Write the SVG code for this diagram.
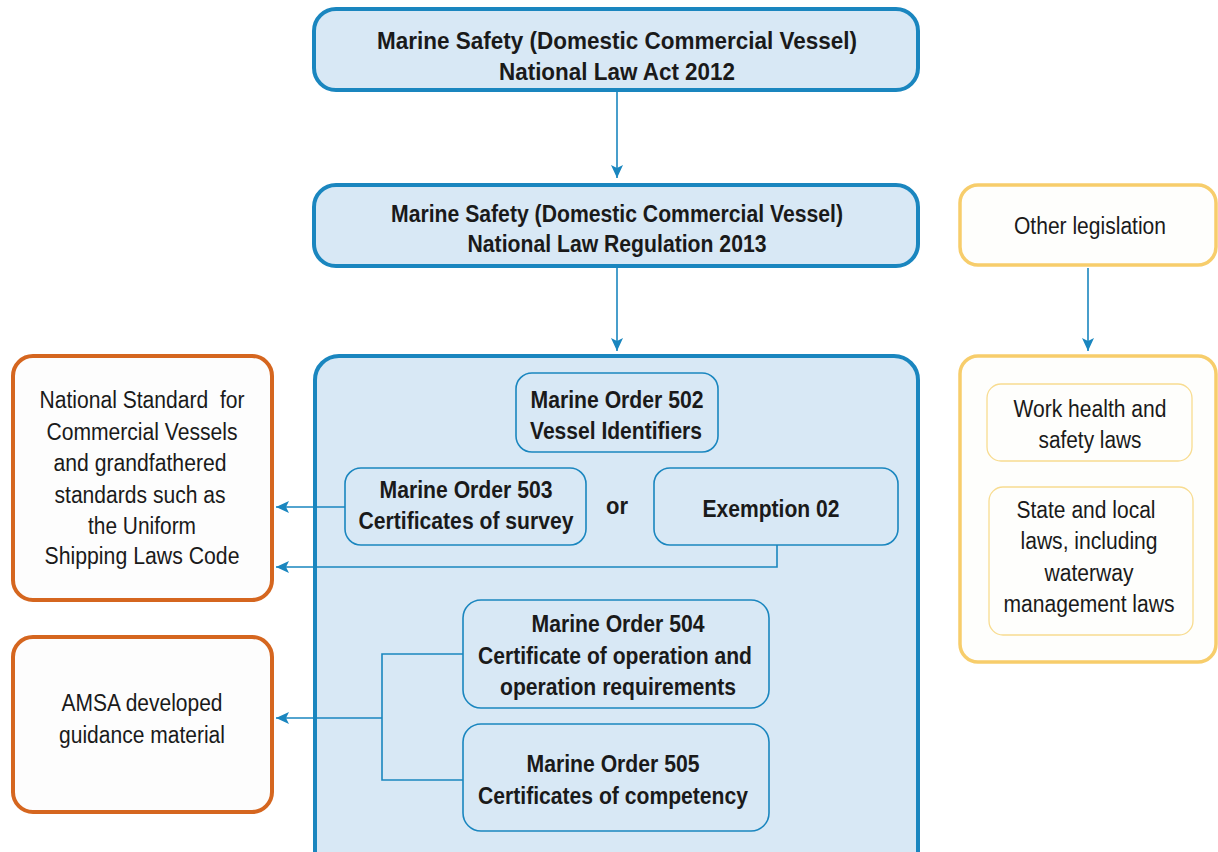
<svg xmlns="http://www.w3.org/2000/svg" width="1218" height="852" viewBox="0 0 1218 852">
<style>
.bm{fill:#d8e8f5;stroke:#1a86bf;stroke-width:4}
.bi{fill:#d8e8f5;stroke:#1a86bf;stroke-width:1.6}
.or{fill:#fdfdfd;stroke:#d5661f;stroke-width:4}
.yo{fill:#fefefc;stroke:#f7cd6b;stroke-width:3.5}
.yi{fill:#fefefc;stroke:#f8dc90;stroke-width:1.3}
text{font-family:"Liberation Sans",Arial,sans-serif;fill:#1a1a1a;text-anchor:middle}
.b{font-weight:bold;font-size:23px}
.r{font-size:23px}
.c{fill:none;stroke:#1a86bf;stroke-width:1.6}
</style>
<defs>
<marker id="ah" markerUnits="userSpaceOnUse" markerWidth="14" markerHeight="14" refX="13" refY="6" orient="auto">
<path d="M0,0 L13,6 L0,12 L3,6 Z" fill="#1a86bf"/>
</marker>
</defs>
<rect width="1218" height="852" fill="#ffffff"/>
<g id="act">
<rect class="bm" x="314" y="9" width="604" height="81" rx="22"/>
<text class="b" x="617" y="49" font-size="24" textLength="480" lengthAdjust="spacingAndGlyphs">Marine Safety (Domestic Commercial Vessel)</text>
<text class="b" x="617" y="80" font-size="24" textLength="236" lengthAdjust="spacingAndGlyphs">National Law Act 2012</text>
</g>
<g id="regulation">
<rect class="bm" x="314" y="185" width="604" height="81" rx="22"/>
<text class="b" x="617" y="222" textLength="452" lengthAdjust="spacingAndGlyphs">Marine Safety (Domestic Commercial Vessel)</text>
<text class="b" x="617" y="252" textLength="299" lengthAdjust="spacingAndGlyphs">National Law Regulation 2013</text>
</g>
<g id="marine-orders">
<rect class="bm" x="315" y="356" width="603" height="520" rx="24"/>
</g>
<g id="mo502">
<rect class="bi" x="516" y="373" width="202" height="79" rx="16"/>
<text class="b" x="617" y="408" textLength="173" lengthAdjust="spacingAndGlyphs">Marine Order 502</text>
<text class="b" x="616" y="439" textLength="172" lengthAdjust="spacingAndGlyphs">Vessel Identifiers</text>
</g>
<g id="mo503">
<rect class="bi" x="345" y="468" width="241" height="77" rx="16"/>
<text class="b" x="466" y="498" textLength="173" lengthAdjust="spacingAndGlyphs">Marine Order 503</text>
<text class="b" x="466" y="529" textLength="215" lengthAdjust="spacingAndGlyphs">Certificates of survey</text>
</g>
<g id="or">
<text class="b" x="617" y="514" textLength="22" lengthAdjust="spacingAndGlyphs">or</text>
</g>
<g id="exemption">
<rect class="bi" x="654" y="468" width="244" height="77" rx="16"/>
<text class="b" x="771" y="517" textLength="137" lengthAdjust="spacingAndGlyphs">Exemption 02</text>
</g>
<g id="mo504">
<rect class="bi" x="463" y="600" width="306" height="108" rx="18"/>
<text class="b" x="618" y="632" textLength="173" lengthAdjust="spacingAndGlyphs">Marine Order 504</text>
<text class="b" x="615" y="664" textLength="274" lengthAdjust="spacingAndGlyphs">Certificate of operation and</text>
<text class="b" x="618" y="695" textLength="236" lengthAdjust="spacingAndGlyphs">operation requirements</text>
</g>
<g id="mo505">
<rect class="bi" x="463" y="724" width="306" height="107" rx="18"/>
<text class="b" x="613" y="772" textLength="173" lengthAdjust="spacingAndGlyphs">Marine Order 505</text>
<text class="b" x="613" y="804" textLength="270" lengthAdjust="spacingAndGlyphs">Certificates of competency</text>
</g>
<g id="national-standard">
<rect class="or" x="13" y="356" width="259" height="244" rx="20"/>
<text class="r" x="142" y="408" textLength="205" lengthAdjust="spacingAndGlyphs" xml:space="preserve">National Standard  for</text>
<text class="r" x="142" y="440" textLength="191" lengthAdjust="spacingAndGlyphs">Commercial Vessels</text>
<text class="r" x="140" y="471" textLength="173" lengthAdjust="spacingAndGlyphs">and grandfathered</text>
<text class="r" x="140" y="503" textLength="171" lengthAdjust="spacingAndGlyphs">standards such as</text>
<text class="r" x="142" y="534" textLength="108" lengthAdjust="spacingAndGlyphs">the Uniform</text>
<text class="r" x="142" y="564" textLength="195" lengthAdjust="spacingAndGlyphs">Shipping Laws Code</text>
</g>
<g id="amsa">
<rect class="or" x="13" y="637" width="259" height="175" rx="20"/>
<text class="r" x="142" y="711" textLength="161" lengthAdjust="spacingAndGlyphs">AMSA developed</text>
<text class="r" x="142" y="743" textLength="166" lengthAdjust="spacingAndGlyphs">guidance material</text>
</g>
<g id="other-legislation">
<rect class="yo" x="960" y="185" width="256" height="80" rx="18"/>
<text class="r" x="1090" y="234" textLength="152" lengthAdjust="spacingAndGlyphs">Other legislation</text>
</g>
<g id="other-laws">
<rect class="yo" x="960" y="356" width="256" height="306" rx="18"/>
</g>
<g id="whs">
<rect class="yi" x="987" y="384" width="205" height="77" rx="14"/>
<text class="r" x="1090" y="417" textLength="153" lengthAdjust="spacingAndGlyphs">Work health and</text>
<text class="r" x="1090" y="448" textLength="103" lengthAdjust="spacingAndGlyphs">safety laws</text>
</g>
<g id="state-laws">
<rect class="yi" x="989" y="487" width="204" height="148" rx="14"/>
<text class="r" x="1086" y="518" textLength="139" lengthAdjust="spacingAndGlyphs">State and local</text>
<text class="r" x="1089" y="549" textLength="137" lengthAdjust="spacingAndGlyphs">laws, including</text>
<text class="r" x="1089" y="581" textLength="89" lengthAdjust="spacingAndGlyphs">waterway</text>
<text class="r" x="1089" y="612" textLength="171" lengthAdjust="spacingAndGlyphs">management laws</text>
</g>
<g id="connectors">
<line class="c" x1="617" y1="91" x2="617" y2="178" marker-end="url(#ah)"/>
<line class="c" x1="617" y1="268" x2="617" y2="351" marker-end="url(#ah)"/>
<line class="c" x1="1088" y1="268" x2="1088" y2="351" marker-end="url(#ah)"/>
<line class="c" x1="345" y1="507" x2="276" y2="507" marker-end="url(#ah)"/>
<polyline class="c" points="777,545 777,567 276,567" marker-end="url(#ah)"/>
<polyline class="c" points="463,654 382,654 382,780 463,780"/>
<line class="c" x1="382" y1="718" x2="276" y2="718" marker-end="url(#ah)"/>
</g>
</svg>
